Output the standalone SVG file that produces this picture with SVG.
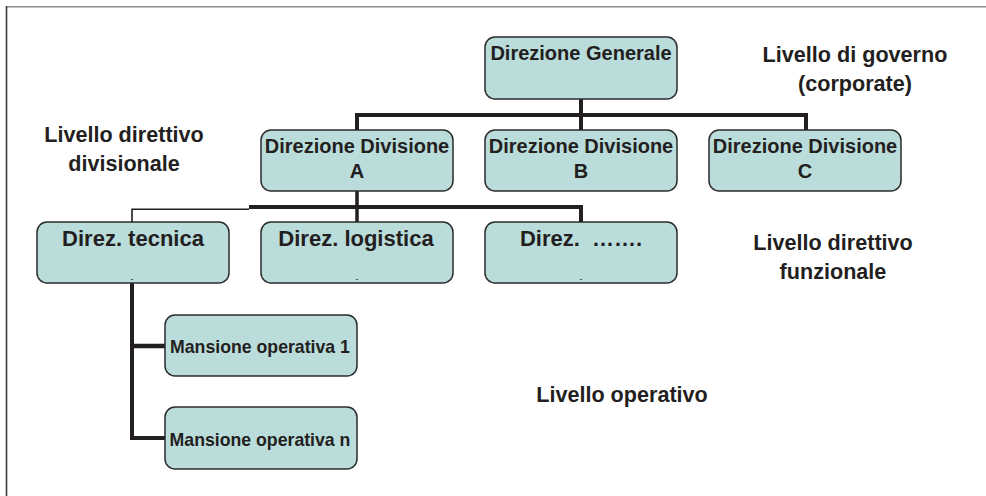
<svg xmlns="http://www.w3.org/2000/svg" width="986" height="496" viewBox="0 0 986 496">
<style>
.box{fill:#badcdb;stroke:#2b2b2b;stroke-width:1.5}
.nt{font-family:"Liberation Sans",Arial,sans-serif;font-weight:bold;font-size:20px;fill:#231f20;text-anchor:middle}
.ft{font-family:"Liberation Sans",Arial,sans-serif;font-weight:bold;font-size:22px;fill:#231f20;text-anchor:middle}
.mt{font-family:"Liberation Sans",Arial,sans-serif;font-weight:bold;font-size:17.7px;fill:#231f20;text-anchor:middle}
.lt{font-family:"Liberation Sans",Arial,sans-serif;font-weight:bold;font-size:21.6px;fill:#231f20;text-anchor:middle}
.dt{font-family:"Liberation Sans",Arial,sans-serif;font-size:9px;fill:#231f20;text-anchor:middle}
.c{fill:none;stroke:#231f20;stroke-linecap:butt}
</style>
<rect width="986" height="496" fill="#fff"/>
<line x1="6" y1="6.8" x2="986" y2="6.8" stroke="#8a8a8a" stroke-width="1.6"/>
<line x1="6.5" y1="6" x2="6.5" y2="496" stroke="#3a3a3a" stroke-width="1.6"/>
<g id="connectors">
<line class="c" x1="581" y1="99" x2="581" y2="115" stroke-width="4"/>
<polyline class="c" points="357,130 357,115 806,115 806,130" stroke-width="4"/>
<line class="c" x1="581" y1="115" x2="581" y2="130" stroke-width="4"/>
<line class="c" x1="357" y1="191" x2="357" y2="222" stroke-width="3.5"/>
<polyline class="c" points="249,207 581,207 581,222" stroke-width="4"/>
<polyline class="c" points="249,209.2 132,209.2 132,222" stroke-width="1.6"/>
<polyline class="c" points="132,283 132,438 165,438" stroke-width="4"/>
<line class="c" x1="132" y1="346" x2="165" y2="346" stroke-width="4.5"/>
</g>
<g id="n-generale"><rect class="box" x="485" y="37" width="192" height="62" rx="10"/><text class="nt" x="581" y="60">Direzione Generale</text></g>
<g id="n-divA"><rect class="box" x="261" y="130" width="192" height="61" rx="10"/><text class="nt" x="357" y="153">Direzione Divisione</text><text class="nt" x="357" y="178">A</text></g>
<g id="n-divB"><rect class="box" x="485" y="130" width="192" height="61" rx="10"/><text class="nt" x="581" y="153">Direzione Divisione</text><text class="nt" x="581" y="178">B</text></g>
<g id="n-divC"><rect class="box" x="709" y="130" width="192" height="61" rx="10"/><text class="nt" x="805" y="153">Direzione Divisione</text><text class="nt" x="805" y="178">C</text></g>
<g id="n-tecnica"><rect class="box" x="37" y="222" width="192" height="61" rx="10"/><text class="ft" x="133" y="246">Direz. tecnica</text><text class="dt" x="132" y="282">-</text></g>
<g id="n-logistica"><rect class="box" x="261" y="222" width="192" height="61" rx="10"/><text class="ft" x="356" y="246">Direz. logistica</text><text class="dt" x="357" y="282">-</text></g>
<g id="n-altro"><rect class="box" x="485" y="222" width="192" height="61" rx="10"/><text class="ft" x="581" y="246" xml:space="preserve">Direz.  …….</text><text class="dt" x="581" y="282">-</text></g>
<g id="n-mans1"><rect class="box" x="165" y="315" width="192" height="61" rx="10"/><text class="mt" x="260" y="353">Mansione operativa 1</text></g>
<g id="n-mansn"><rect class="box" x="165" y="407" width="192" height="62" rx="10"/><text class="mt" x="260" y="446">Mansione operativa n</text></g>
<g id="labels">
<text class="lt" x="855" y="62">Livello di governo</text>
<text class="lt" x="855" y="91">(corporate)</text>
<text class="lt" x="124" y="142">Livello direttivo</text>
<text class="lt" x="124" y="171">divisionale</text>
<text class="lt" x="833" y="250">Livello direttivo</text>
<text class="lt" x="833" y="279">funzionale</text>
<text class="lt" x="622" y="402">Livello operativo</text>
</g>
</svg>
